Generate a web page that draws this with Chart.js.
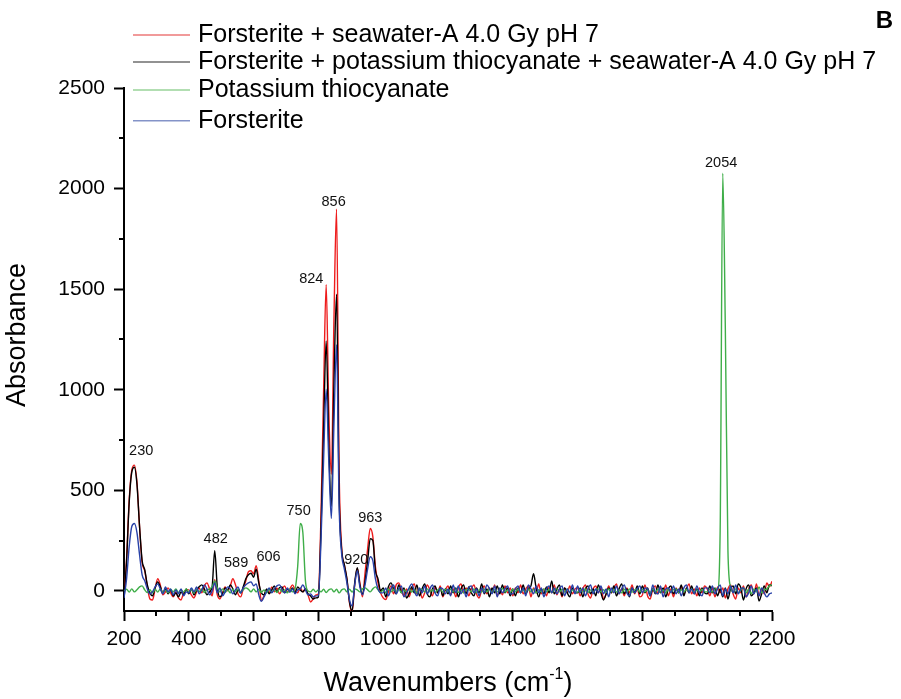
<!DOCTYPE html>
<html>
<head>
<meta charset="utf-8">
<script src="https://cdn.jsdelivr.net/npm/chart.js@4"></script>
<style>
  body { margin: 0; background: #fff; }
  canvas { display: block; }
</style>
</head>
<body>
<canvas id="chart" width="901" height="699"></canvas>
<script>
const FONT = "'Liberation Sans', Arial, sans-serif";

// wavenumber grid: 200 to 2200 cm-1, one sample every 8 cm-1
const wave_start = 200;
const wave_step = 8;
const wavenumbers = [];
for (let w = wave_start; w <= 2200; w += wave_step) wavenumbers.push(w);

const x_tick_values = [200, 400, 600, 800, 1000, 1200, 1400, 1600, 1800, 2000, 2200];
const y_tick_values = [0, 500, 1000, 1500, 2000, 2500];

const series_labels = [
    "Forsterite + seawater-A 4.0 Gy pH 7",
    "Forsterite + potassium thiocyanate + seawater-A 4.0 Gy pH 7",
    "Potassium thiocyanate",
    "Forsterite",
];
const series_colors = ["#ee1c1c", "#000000", "#3fae49", "#2841a8"];
const legend_colors = ["#ec7878", "#6e6e6e", "#98d398", "#8493c8"];

// one row = 200 cm-1 (25 samples), last value is 2200
const seawater_a = [
    -30, 160, 450, 600, 625, 540, 320, 140, 100, 20, -40, -45, 10, 60, 30, -20, -5, 15, -10, -30, -5, -35, -45, -10, 5,
    5, -20, -35, -5, 15, -10, 25, 40, 10, -25, 55, -20, -40, -10, 20, 0, 25, 60, 30, -15, -30, 10, 50, 95, 100,
    85, 125, 50, -48, -25, 5, -10, 20, -5, 15, -15, 10, 25, -5, 10, 30, 5, -10, 15, -5, 10, -20, -55, -40, -20,
    -15, 380, 990, 1522, 900, 580, 1350, 1898, 600, 210, 130, 60, -60, -105, 30, 112, 40, -30, 90, 210, 310, 270, 120, 40, -10,
    -35, -43, -5, 25, -15, 30, 40, 5, -25, 10, -30, 15, 35, -15, 10, -35, -10, 30, 5, -25, 20, -10, 25, -30, 5,
    25, -20, 10, -30, 15, 35, -10, 15, -25, 10, 30, -15, -35, 5, 25, -15, 15, -10, 30, -25, 10, -20, 25, -10, 15,
    -25, 15, -10, 30, -15, 10, 25, -30, 15, -10, 35, -15, 10, -25, 20, -10, 30, -20, 10, -30, 15, -10, 25, -15, 10,
    15, -25, 10, 30, -15, -35, 10, 25, -10, 15, -40, -15, 25, -10, 15, 35, -15, 10, -25, 15, -10, 30, -15, 10, -30,
    -20, 30, -25, -40, 10, 25, -15, 15, -10, 30, -25, 10, -30, 15, -10, 25, -15, 10, 35, -15, 10, -25, 15, -10, 25,
    10, -25, 15, -30, 20, -10, 15, -35, 10, 30, -15, -40, 15, -10, 25, -30, 10, 30, -15, 35, -25, 10, -15, 40, 20,
    48,
];

const thiocyanate_seawater_a = [
    -40, 150, 440, 590, 615, 530, 320, 150, 105, 30, -10, -25, 15, 45, 20, -10, 10, -15, 5, -25, -10, -30, -5, -20, 10,
    -15, 10, -20, 5, 20, 30, 10, -20, -5, 20, 200, 20, -30, -15, 15, 5, 30, 10, -20, 5, -10, 20, 60, 80, 88,
    68, 108, 40, -10, -20, 10, -15, 5, 25, -5, 15, 20, -10, 10, -5, 15, -10, 20, 5, -5, 10, -15, -25, -40, -35,
    -30, 310, 800, 1243, 730, 420, 1030, 1475, 480, 200, 130, 60, -55, -100, 40, 115, 30, -15, 50, 150, 260, 250, 100, 60, 0,
    15, -30, 20, 40, 10, -15, 30, -10, 15, -35, -15, 20, -10, 30, -25, 10, 35, -15, -30, 10, 25, -10, 15, -25, 10,
    -15, 25, -10, 15, -30, 10, 30, -15, 20, -10, -25, 15, -10, 35, -15, 10, -30, 15, -10, 25, -15, 30, -10, 15, -25,
    10, -25, 15, -10, 30, -15, 10, 25, 85, 15, -30, 10, -15, 20, -10, 50, -15, 10, 30, -25, 15, -10, -30, 15, -10,
    -10, 15, -30, 10, 25, -15, 10, -25, 30, -10, -45, -15, 15, -10, 25, -25, 10, 35, -15, 10, -30, 15, -10, 25, -15,
    25, -10, 15, -25, 10, -15, 30, -10, 15, -30, 10, 25, -15, 10, -10, 30, -25, 15, -10, 25, -15, 10, -25, 15, -10,
    -15, 25, -10, 15, -25, 10, -30, 15, -40, 10, 25, -15, 35, 15, -45, 10, 30, -25, -10, 15, -50, -15, 25, -10, 30,
    25,
];

const thiocyanate = [
    0, 8, -6, 10, -5, 6, 20, 25, 5, -8, 6, -10, 8, -6, 10, -8, 4, -10, 8, -5, 10, -8, 6, -6, 10,
    -6, 8, -10, 6, -4, 10, -8, 5, 10, 20, 50, 15, -5, 10, -8, 5, -10, 8, -5, 10, -8, 6, 15, 8, -5,
    10, -5, 8, -8, 5, -10, 8, -5, 6, -8, 10, -5, 5, -10, 8, -5, 10, 120, 335, 290, 50, 0, -5, 8, -5,
    5, -5, 8, -8, 5, 10, -5, 8, -10, 5, 10, -5, 8, -6, 10, 5, -5, 10, 15, 5, -5, 10, 20, 5, -8,
    5, -8, 10, -5, 8, -6, 10, -8, 5, -5, 12, -6, 8, -10, 5, 8, -6, 10, -5, 6, -8, 5, 10, -6, 8,
    -5, 8, -6, 10, -8, 5, -10, 6, 8, -5, 10, -8, 5, -6, 8, -5, 10, -8, 6, -5, 8, 12, -6, 5, -8,
    8, -5, 10, -8, 5, -6, 10, -5, 8, -10, 6, -5, 10, -6, 8, -8, 5, 10, -5, 8, -6, 10, -8, 5, -5,
    -6, 8, -5, 10, -8, 5, -6, 8, 10, -5, 6, -8, 10, -5, 8, -6, 5, -10, 8, -5, 10, -6, 5, 8, -5,
    8, -5, 6, -8, 10, -5, 8, -6, 5, -10, 8, -5, 6, 10, -8, 5, -6, 8, -5, 10, -8, 5, -6, 8, -5,
    -5, 8, -6, 10, 10, 300, 2076, 1300, 200, 20, -5, 10, -8, 5, 15, -10, 8, -15, 10, -5, 20, -10, 5, 10, 25,
    30,
];

const forsterite = [
    -35, 60, 220, 320, 335, 290, 180, 80, 50, 10, -15, -5, 20, 35, 10, -15, 20, -5, 10, -20, 5, -15, 10, -25, -5,
    -10, 15, -5, 20, -15, 5, 30, 10, -20, 0, 40, -10, 15, -25, -5, 20, 10, -15, 5, 20, -10, 15, 30, 40, 45,
    25, 35, -20, -52, -30, -5, 15, -10, 10, 25, 30, 5, -10, 15, -5, 10, -15, 5, 10, 30, 5, -20, -15, -30, -25,
    -25, 250, 650, 1003, 650, 360, 830, 1224, 420, 180, 110, 40, -45, -75, 30, 100, 20, -20, 30, 110, 170, 150, 60, 10, -10,
    -10, 15, -25, 10, 30, -15, 10, 25, -30, -10, 15, 35, 0, -25, 15, -10, 25, -15, 10, 30, -10, -25, 15, 10, -15,
    10, -25, 30, -10, 25, -15, 10, -30, 15, 25, -10, 10, -25, 15, -10, 30, 10, -15, 25, -30, 15, -10, 10, 25, -15,
    -15, 10, 25, -10, 15, -25, 30, 10, -15, 25, -10, 15, -30, 10, 25, -10, 15, -15, 10, 25, -25, 10, -10, 30, -15,
    25, -10, 15, -25, 10, 30, -15, 10, -10, 25, -15, 10, -30, 15, -10, 25, -15, 10, 30, -10, -25, 15, -10, 10, 25,
    -10, 15, 10, -25, 30, -10, -15, 25, -30, 10, 15, -10, 25, -15, 10, -25, 15, 30, -10, 10, -15, 25, -10, -25, 15,
    15, -10, 25, -15, 10, 30, -25, 10, -15, 25, -10, 30, -15, 10, 15, -30, -10, 25, -15, 10, -25, 15, -10, -30, -15,
    -10,
];

const all_series = [seawater_a, thiocyanate_seawater_a, thiocyanate, forsterite];
// later series drawn on top (lower order = on top)
const draw_order = [4, 3, 2, 1];

// peak annotations, placed in data units
const peak_texts = ["230", "482", "589", "606", "750", "824", "856", "920", "963", "2054"];
const peak_label_x = [253, 483, 546, 646, 739, 778, 847, 917, 960, 2043];
const peak_label_y = [697, 260, 139, 169, 395, 1551, 1932, 155, 363, 2126];

const x_ticks_minor = [300, 500, 700, 900, 1100, 1300, 1500, 1700, 1900, 2100];
const y_ticks_minor = [250, 750, 1250, 1750, 2250];

const legend_rows = [35, 62, 90, 120.7];

const decorations = {
    id: "decorations",
    afterDraw(chart) {
        const ctx = chart.ctx;
        const area = chart.chartArea;
        const xs = chart.scales.x;
        const ys = chart.scales.y;
        ctx.save();

        // minor ticks
        ctx.strokeStyle = "#000";
        ctx.lineWidth = 2;
        x_ticks_minor.forEach(v => {
            const px = Math.round(xs.getPixelForValue(v));
            ctx.beginPath();
            ctx.moveTo(px, area.bottom);
            ctx.lineTo(px, area.bottom + 5);
            ctx.stroke();
        });
        y_ticks_minor.forEach(v => {
            const py = Math.round(ys.getPixelForValue(v));
            ctx.beginPath();
            ctx.moveTo(area.left, py);
            ctx.lineTo(area.left - 5, py);
            ctx.stroke();
        });

        // peak labels
        ctx.fillStyle = "#111";
        ctx.font = "14.5px " + FONT;
        ctx.textAlign = "center";
        ctx.textBaseline = "middle";
        peak_texts.forEach((t, i) => {
            ctx.fillText(t, xs.getPixelForValue(peak_label_x[i]), ys.getPixelForValue(peak_label_y[i]));
        });

        // legend
        ctx.font = "25px " + FONT;
        ctx.textAlign = "left";
        series_labels.forEach((label, i) => {
            const ly = legend_rows[i];
            ctx.strokeStyle = legend_colors[i];
            ctx.lineWidth = 1.5;
            ctx.beginPath();
            ctx.moveTo(133, ly);
            ctx.lineTo(190, ly);
            ctx.stroke();
            ctx.fillStyle = "#000";
            ctx.fillText(label, 198, ly);
        });

        // panel letter
        ctx.font = "bold 24px " + FONT;
        ctx.textAlign = "center";
        ctx.fillText("B", 884.5, 21);

        // y title
        ctx.font = "27px " + FONT;
        ctx.save();
        ctx.translate(18, 335);
        ctx.rotate(-Math.PI / 2);
        ctx.fillText("Absorbance", 0, 0);
        ctx.restore();

        // x title with superscript
        const main = "Wavenumbers (cm";
        const sup = "-1";
        const close = ")";
        ctx.font = "27px " + FONT;
        const w_main = ctx.measureText(main).width;
        const w_close = ctx.measureText(close).width;
        ctx.font = "16px " + FONT;
        const w_sup = ctx.measureText(sup).width;
        let tx = (area.left + area.right) / 2 - (w_main + w_sup + w_close) / 2;
        const ty = 684;
        ctx.textAlign = "left";
        ctx.font = "27px " + FONT;
        ctx.fillText(main, tx, ty);
        tx += w_main;
        ctx.font = "16px " + FONT;
        ctx.fillText(sup, tx, ty - 9);
        tx += w_sup;
        ctx.font = "27px " + FONT;
        ctx.fillText(close, tx, ty);

        ctx.restore();
    }
};

const datasets = all_series.map((values, i) => ({
    label: series_labels[i],
    data: values.map((v, j) => ({ x: wavenumbers[j], y: v })),
    borderColor: series_colors[i],
    borderWidth: 1.4,
    pointRadius: 0,
    cubicInterpolationMode: "monotone",
    fill: false,
    order: draw_order[i],
}));

const tick_font = { family: FONT, size: 21 };

new Chart(document.getElementById("chart"), {
    type: "line",
    data: { datasets: datasets },
    options: {
        responsive: false,
        animation: false,
        layout: { padding: { left: 0, top: 88, right: 129, bottom: 0 } },
        plugins: {
            legend: { display: false },
            tooltip: { enabled: false },
        },
        scales: {
            x: {
                type: "linear",
                min: 200,
                max: 2200,
                ticks: { color: "#000", font: tick_font, padding: 6, maxRotation: 0, callback: v => String(v) },
                grid: { drawOnChartArea: false, tickLength: 10, tickWidth: 2, tickColor: "#000" },
                border: { color: "#000", width: 2 },
                afterBuildTicks: s => { s.ticks = x_tick_values.map(v => ({ value: v })); },
                afterFit: s => { s.height = 88; },
            },
            y: {
                min: -100,
                max: 2500,
                ticks: { color: "#000", font: tick_font, padding: 9, callback: v => String(v) },
                grid: { drawOnChartArea: false, tickLength: 10, tickWidth: 2, tickColor: "#000" },
                border: { color: "#000", width: 2 },
                afterBuildTicks: s => { s.ticks = y_tick_values.map(v => ({ value: v })); },
                afterFit: s => { s.width = 124; },
            },
        },
    },
    plugins: [decorations],
});
</script>
</body>
</html>
